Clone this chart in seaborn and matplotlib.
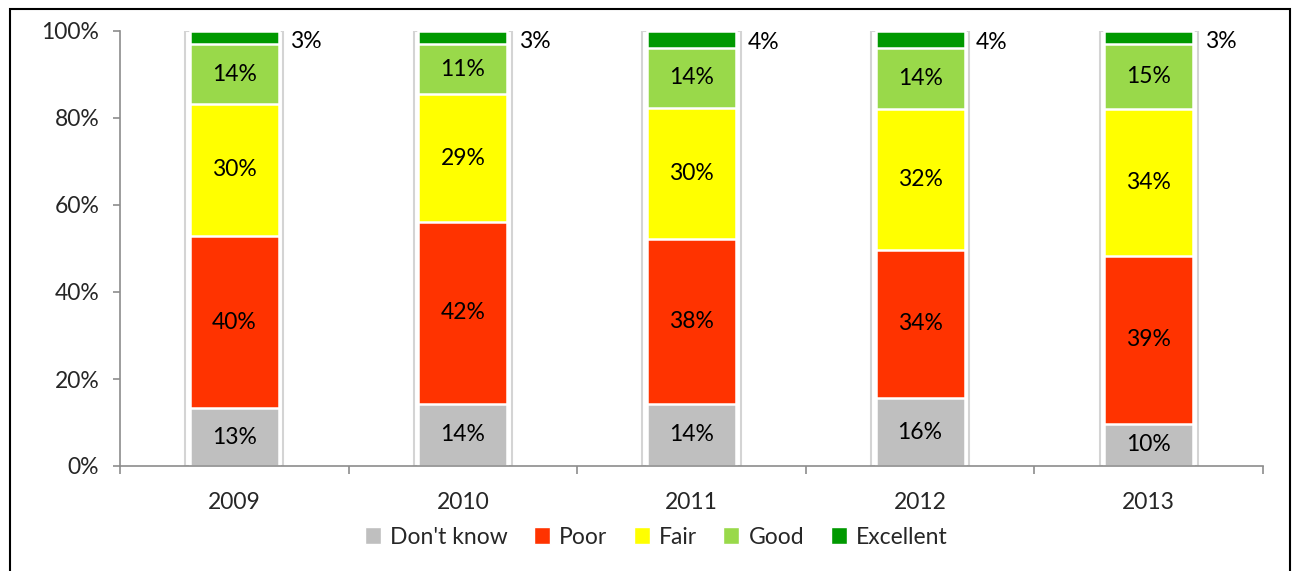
import matplotlib.pyplot as plt
import numpy as np
import pandas as pd
import seaborn as sns
from matplotlib.patches import Patch, Rectangle
from matplotlib.ticker import FixedLocator, PercentFormatter

years = ["2009", "2010", "2011", "2012", "2013"]
dont_know = [13.3, 14.3, 14.3, 15.6, 9.7]
poor = [39.6, 41.8, 37.9, 34.1, 38.6]
fair = [30.4, 29.4, 30.1, 32.4, 33.8]
good = [13.6, 11.4, 13.8, 14.1, 14.9]
excellent = [3.1, 3.1, 3.9, 3.8, 3.0]

series = ["Don't know", "Poor", "Fair", "Good", "Excellent"]
colors = ["#BFBFBF", "#FF3300", "#FFFF00", "#99D94A", "#009900"]

df = pd.DataFrame(
    {"Don't know": dont_know, "Poor": poor, "Fair": fair, "Good": good, "Excellent": excellent},
    index=years,
)
cum = df.cumsum(axis=1)

sns.set_style("white")
plt.rcParams["font.family"] = ["Lato", "DejaVu Sans"]
fs = 16.5

fig = plt.figure(figsize=(12.95, 5.71), dpi=100)
ax = fig.add_axes([120 / 1295, 1 - 466 / 571, (1263 - 120) / 1295, 435 / 571])

bar_w = 0.39

# soft shadow behind each stack
sns.barplot(x=years, y=cum["Excellent"].values, color="white", width=0.43,
            edgecolor="#D4D4D4", linewidth=1.5, ax=ax, saturation=1)

# stacked segments, drawn from the top cumulative value down
for name, col in reversed(list(zip(series, colors))):
    sns.barplot(x=years, y=cum[name].values, color=col, width=bar_w,
                edgecolor="white", linewidth=1.8, ax=ax, saturation=1)

# labels
for i, yr in enumerate(years):
    base = 0
    for name in series:
        v = df.loc[yr, name]
        if name == "Excellent":
            ax.text(i + bar_w / 2 + 0.05, base + v / 2 - 0.8, f"{v:.0f}%",
                    ha="left", va="center", fontsize=fs, color="black")
        else:
            ax.text(i, base + v / 2, f"{v:.0f}%", ha="center", va="center",
                    fontsize=fs, color="black")
        base += v

ax.set_ylim(0, 100)
ax.set_xlim(-0.5, len(years) - 0.5)
ax.yaxis.set_major_locator(FixedLocator([0, 20, 40, 60, 80, 100]))
ax.yaxis.set_major_formatter(PercentFormatter(decimals=0))
ax.set_xticks(range(len(years)))
ax.set_xticklabels(years)
ax.set_xticks(np.arange(-0.5, len(years)), minor=True)

for s in ["top", "right"]:
    ax.spines[s].set_visible(False)
for s in ["left", "bottom"]:
    ax.spines[s].set_color("#8C8C8C")
    ax.spines[s].set_linewidth(1.2)

ax.tick_params(axis="y", which="major", left=True, length=5, width=1.2,
               color="#8C8C8C", direction="out", pad=10, labelsize=fs)
ax.tick_params(axis="x", which="major", bottom=False, length=0, pad=19, labelsize=fs)
ax.tick_params(axis="x", which="minor", bottom=True, length=6, width=1.2,
               color="#8C8C8C", direction="out")
ax.set_xlabel("")
ax.set_ylabel("")

handles = [Patch(facecolor=c, edgecolor="white", label=n) for n, c in zip(series, colors)]
fig.legend(handles=handles, loc="center", bbox_to_anchor=(656 / 1295, 1 - 537 / 571),
           ncol=5, frameon=False, fontsize=fs, handlelength=0.7, handleheight=0.7,
           handletextpad=0.4, columnspacing=1.15)

# outer chart frame (bottom edge cut off in the original)
fig.patches.append(Rectangle((10 / 1295, -0.05), 1280 / 1295, 1.05 - 9 / 571,
                             transform=fig.transFigure, fill=False,
                             edgecolor="black", linewidth=1.5))

fig.savefig("out.png", dpi=100)
